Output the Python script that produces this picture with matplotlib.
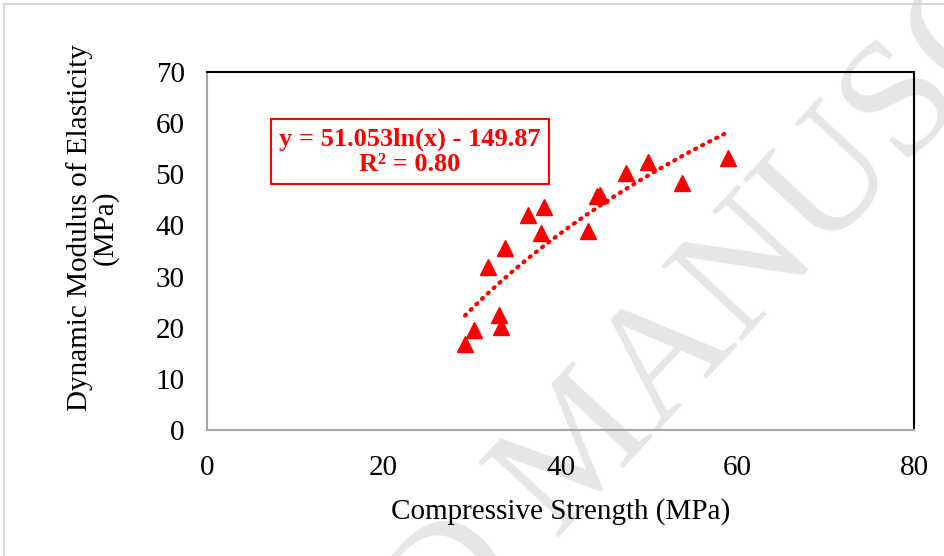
import numpy as np
import matplotlib.pyplot as plt

# compressive strength vs dynamic modulus measurements
strength = [29.2, 30.2, 33.0, 33.3, 31.8, 33.7, 36.3, 38.1, 37.8, 43.1, 44.1, 44.5, 47.4, 49.9, 53.8, 59.0]
modulus = [16.8, 19.6, 22.5, 20.1, 31.9, 35.6, 42.0, 43.6, 38.5, 38.9, 45.8, 46.0, 50.2, 52.4, 48.3, 53.2]

# logarithmic trend: y = a ln(x) + b
fit_a = 51.053
fit_b = -149.87
fit_r2 = 0.80

x_ticks = [0, 20, 40, 60, 80]
y_ticks = [0, 10, 20, 30, 40, 50, 60, 70]

plt.rcParams['font.family'] = ['Liberation Serif', 'DejaVu Serif']

fig = plt.figure(figsize=(9.44, 5.56), dpi=100)
ax = fig.add_axes([207 / 944, 1 - 430 / 556, 707 / 944, 358 / 556])

# faint watermark behind everything
fig.text(0.62, 0.19, 'ACCEPTED MANUSCRIPT', fontsize=120, color='#e6e6e6',
         rotation=47, ha='center', va='center', zorder=-1)
ax.patch.set_alpha(0)

ax.plot(strength, modulus, linestyle='none', marker='^', color='#ff0000',
        markersize=12, zorder=3, clip_on=False)

xs = np.linspace(min(strength), max(strength), 200)
ax.plot(xs, fit_a * np.log(xs) + fit_b, linestyle=(0, (0.3, 1.6)), color='#ff0000',
        linewidth=3, dash_capstyle='round', zorder=2)

ax.text(0.287, 0.777, f'y = {fit_a:.3f}ln(x) - {abs(fit_b):.2f}\nR² = {fit_r2:.2f}',
        transform=ax.transAxes, ha='center', va='center', color='#ff0000',
        fontsize=19, fontweight='bold', linespacing=1.1,
        bbox=dict(boxstyle='square,pad=0.3', facecolor='white', edgecolor='#ff0000', linewidth=1.5))

ax.set_xlim(0, 80)
ax.set_ylim(0, 70)
ax.set_xticks(x_ticks)
ax.set_yticks(y_ticks)
ax.tick_params(axis='y', length=0, labelsize=21, pad=16)
ax.tick_params(axis='x', length=0, labelsize=21, pad=18)
ax.set_xlabel('Compressive Strength (MPa)', fontsize=21, labelpad=12)
ax.set_ylabel('Dynamic Modulus of Elasticity\n(MPa)', fontsize=21, linespacing=0.95, va='center')
ax.yaxis.set_label_coords(-0.162, 0.565)

for side in ['left', 'bottom']:
    ax.spines[side].set_color('#a6a6a6')
    ax.spines[side].set_linewidth(1.5)
for side in ['top', 'right']:
    ax.spines[side].set_color('black')
    ax.spines[side].set_linewidth(1.5)

# thin gray page border on the left and top
fig.add_artist(plt.Line2D([0.004, 0.004], [0, 0.992], color='#d0d0d0', linewidth=1.2))
fig.add_artist(plt.Line2D([0.004, 1], [0.992, 0.992], color='#d0d0d0', linewidth=1.2))

fig.savefig('out.png', dpi=100)
